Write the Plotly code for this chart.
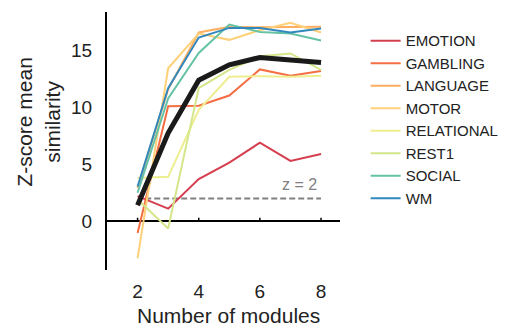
import plotly.graph_objects as go

modules = [2, 3, 4, 5, 6, 7, 8]
names = ["EMOTION", "GAMBLING", "LANGUAGE", "MOTOR", "RELATIONAL", "REST1", "SOCIAL", "WM"]
colors = ["#d53e4f", "#f46d43", "#fdae61", "#fed07a", "#eeee90", "#d4e68a", "#66c2a5", "#3288bd"]

emotion = [2.2, 1.1, 3.7, 5.15, 6.9, 5.3, 5.9]
gambling = [-1.05, 10.1, 10.15, 11.05, 13.35, 12.8, 13.2]
language = [2.9, 11.6, 16.6, 17.1, 17.05, 17.05, 17.1]
motor = [-3.25, 13.45, 16.5, 15.95, 16.8, 17.45, 16.6]
relational = [3.8, 3.9, 9.8, 12.7, 12.75, 12.7, 12.8]
rest1 = [1.9, -0.65, 11.7, 13.3, 14.5, 14.75, 13.3]
social = [2.5, 10.8, 14.8, 17.3, 16.65, 16.5, 15.9]
wm = [3.05, 11.7, 16.15, 17.0, 17.0, 16.6, 16.95]
mean_all = [1.4, 7.75, 12.4, 13.75, 14.4, 14.2, 13.95]

series = [emotion, gambling, language, motor, relational, rest1, social, wm]

threshold = 2
thr_x = [2.25, 8]
xticks = [2, 4, 6, 8]
yticks = [0, 5, 10, 15]

fig = go.Figure()
fig.add_trace(go.Scatter(x=thr_x, y=[threshold, threshold], mode="lines",
                         line=dict(color="#808080", width=2, dash="6px,3px"),
                         showlegend=False, hoverinfo="skip"))
for n, c, s in zip(names, colors, series):
    fig.add_trace(go.Scatter(x=modules, y=s, mode="lines", name=n,
                             line=dict(color=c, width=2)))
fig.add_trace(go.Scatter(x=modules, y=mean_all, mode="lines", name="mean",
                         line=dict(color="#1a1a1a", width=5), showlegend=False))

for t in xticks:
    fig.add_shape(type="line", x0=t, x1=t, y0=0, y1=0.3, xref="x", yref="y",
                  line=dict(color="black", width=1.5))

fig.add_annotation(x=8, y=threshold, xref="x", yref="y", text="z = 2",
                   showarrow=False, xanchor="right", yanchor="bottom", yshift=3,
                   xshift=-2, font=dict(size=16, color="#808080"))
fig.add_annotation(x=-0.296, y=0.575, xref="paper", yref="paper",
                   text="Z-score mean<br>similarity", showarrow=False,
                   xanchor="center", yanchor="middle",
                   textangle=-90, font=dict(size=21, color="#222"))
fig.add_annotation(x=0.52, y=-0.125, xref="paper", yref="paper",
                   text="Number of modules", showarrow=False, yanchor="top",
                   xanchor="center", font=dict(size=21, color="#222"))

fig.update_layout(
    width=507, height=320,
    margin=dict(l=99, r=175, t=4, b=58),
    paper_bgcolor="white", plot_bgcolor="white",
    font=dict(family="Liberation Sans, Arial, Helvetica, sans-serif", color="#222"),
    legend=dict(x=1.11, y=0.952, xanchor="left", yanchor="top",
                font=dict(size=15, color="#222"), bgcolor="rgba(0,0,0,0)",
                tracegroupgap=0),
    xaxis=dict(range=[1, 8.62], tickvals=xticks, showgrid=False, zeroline=False,
               showline=False, ticks="outside", ticklen=4,
               tickcolor="rgba(0,0,0,0)", tickfont=dict(size=19)),
    yaxis=dict(range=[-4.3, 18.4], tickvals=yticks, showgrid=False,
               zeroline=True, zerolinecolor="black", zerolinewidth=2,
               showline=True, linecolor="black", linewidth=2,
               ticks="outside", ticklen=9, tickcolor="rgba(0,0,0,0)",
               tickfont=dict(size=19)),
)

fig.write_html("out.html")
